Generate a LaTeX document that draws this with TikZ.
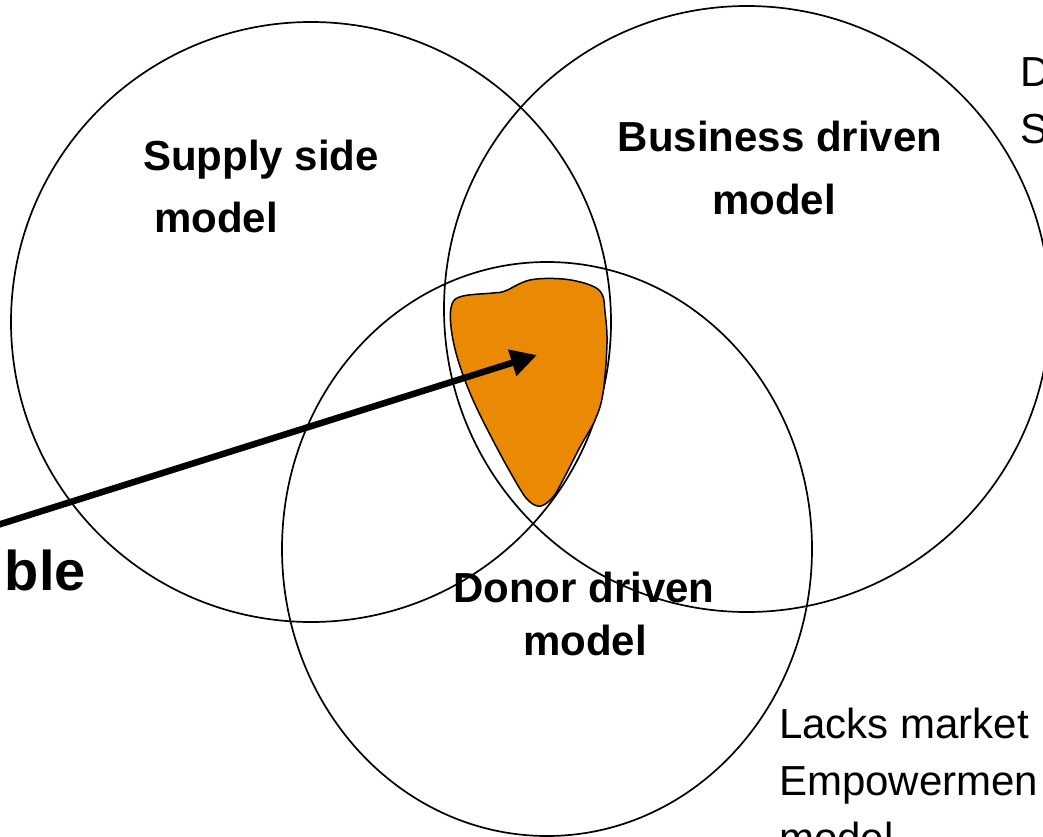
\documentclass[tikz,border=0pt]{standalone}
\usepackage{fontspec}
\setmainfont{Liberation Sans}
\usetikzlibrary{arrows.meta}
\definecolor{blobfill}{RGB}{234,138,4}
\begin{document}
\begin{tikzpicture}[x=1pt,y=-1pt,
  ring/.style={draw=black,line width=1.7pt},
  lbl/.style={inner sep=0pt,font=\fontsize{42}{50}\selectfont\bfseries,anchor=base},
  side/.style={inner sep=0pt,font=\fontsize{42}{50}\selectfont,anchor=base west},
  big/.style={inner sep=0pt,font=\fontsize{56}{64}\selectfont\bfseries,anchor=base east}]
\useasboundingbox (0,0) rectangle (1043,837);
\clip (0,0) rectangle (1043,837);
\fill[white] (0,0) rectangle (1043,837);
% circles
\draw[ring] (311,322) circle (300);
\draw[ring] (747,309) circle (303);
\draw[ring] (547,549) ellipse [x radius=265, y radius=287];
% blob
\filldraw[fill=blobfill,draw=black,line width=1.5pt]
  plot[smooth cycle,tension=0.6] coordinates {
   (452,304) (463,296) (493,293) (505,291) (530,280) (563,279) (590,285)
   (602,294) (605,312) (607,343) (603,393) (595,420) (580,447) (563,480)
   (553,497) (541,506) (530,502) (520,489) (497,448) (473,400) (458,360) (451,327)};
% labels
\node[lbl] (s1) at (261,171) {Supply side};
\node[lbl] (s2) at (216,232) {model};
\node[lbl] (b1) at (780,152) {Business driven};
\node[lbl] (b2) at (774,214) {model};
\node[lbl] (d1) at (584,602) {Donor driven};
\node[lbl] (d2) at (585,655) {model};
\node[big] (bl) at (86,590) {ble};
\node[side] (t1) at (1020,87) {D};
\node[side] (t2) at (1020,144) {S};
\node[side] (r1) at (779,738) {Lacks market};
\node[side] (r2) at (779,795) {Empowermen};
\node[side] (r3) at (779,852) {model};
% arrow
\coordinate (arrowstart) at (-50,540);
\coordinate (arrowtip) at (537,355);
\draw[line width=6.5pt,-{Triangle[length=26pt,width=26pt]}] (arrowstart) -- (arrowtip);
\end{tikzpicture}
\end{document}
